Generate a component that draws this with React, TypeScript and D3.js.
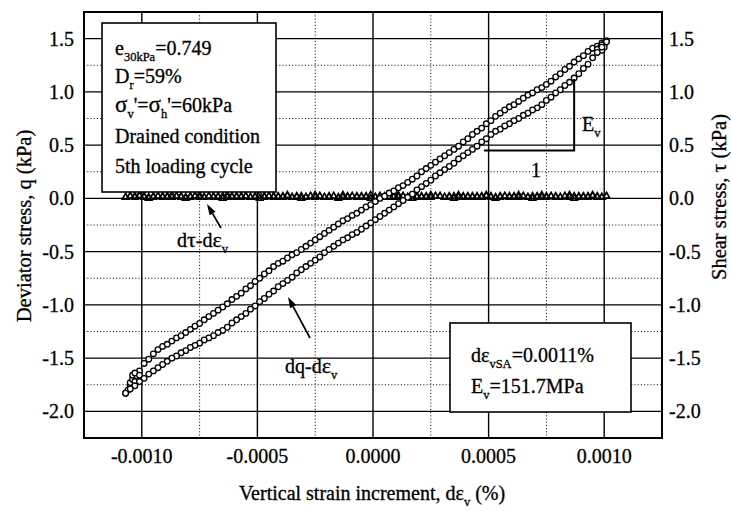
import React from "react";
import * as d3 from "d3";

const WIDTH = 731;
const HEIGHT = 511;

// Axis ticks
const strainMajorTicks = [-0.001, -0.0005, 0, 0.0005, 0.001];
const strainMinorTicks = [-0.00075, -0.00025, 0.00025, 0.00075];
const strainTickLabels = ["-0.0010", "-0.0005", "0.0000", "0.0005", "0.0010"];
const stressMajorTicks = [-2, -1.5, -1, -0.5, 0, 0.5, 1, 1.5];
const stressMinorTicks = [-1.75, -1.25, -0.75, -0.25, 0.25, 0.75, 1.25];
const stressTickLabels = ["-2.0", "-1.5", "-1.0", "-0.5", "0.0", "0.5", "1.0", "1.5"];

// dq-dεv loop, loading branch: [vertical strain increment (%), q (kPa)]
const loadingBranch: [number, number][] = [
  [-0.00107, -1.83], [-0.00105, -1.76], [-0.00103, -1.68], [-0.00101, -1.62], [-0.00099, -1.55],
  [-0.00097, -1.51], [-0.00095, -1.46], [-0.00093, -1.42], [-0.00091, -1.39], [-0.00089, -1.37],
  [-0.00087, -1.34], [-0.00085, -1.31], [-0.00083, -1.29], [-0.00081, -1.26], [-0.00079, -1.23],
  [-0.00077, -1.2], [-0.00075, -1.175], [-0.00073, -1.14], [-0.00071, -1.11], [-0.00069, -1.08],
  [-0.00067, -1.05], [-0.00065, -1.02], [-0.00063, -0.99], [-0.00061, -0.95], [-0.00059, -0.92],
  [-0.00057, -0.89], [-0.00055, -0.85], [-0.00053, -0.82], [-0.00051, -0.78], [-0.00049, -0.75],
  [-0.00047, -0.71], [-0.00045, -0.68], [-0.00043, -0.64], [-0.00041, -0.61], [-0.00039, -0.59],
  [-0.00037, -0.56], [-0.00035, -0.53], [-0.00033, -0.51], [-0.00031, -0.48], [-0.00029, -0.45],
  [-0.00027, -0.42], [-0.00025, -0.39], [-0.00023, -0.36], [-0.00021, -0.33], [-0.00019, -0.3],
  [-0.00017, -0.27], [-0.00015, -0.24], [-0.00013, -0.21], [-0.00011, -0.19], [-0.00009, -0.16],
  [-0.00007, -0.14], [-0.00005, -0.11], [-0.00003, -0.08], [-0.00001, -0.06], [0.00001, -0.03],
  [0.00003, 0.0], [0.00005, 0.02], [0.00007, 0.05], [0.00009, 0.07], [0.00011, 0.1],
  [0.00013, 0.12], [0.00015, 0.15], [0.00017, 0.18], [0.00019, 0.21], [0.00021, 0.25],
  [0.00023, 0.28], [0.00025, 0.31], [0.00027, 0.34], [0.00029, 0.37], [0.00031, 0.4],
  [0.00033, 0.43], [0.00035, 0.46], [0.00037, 0.49], [0.00039, 0.53], [0.00041, 0.56],
  [0.00043, 0.6], [0.00045, 0.63], [0.00047, 0.66], [0.00049, 0.7], [0.00051, 0.73],
  [0.00053, 0.77], [0.00055, 0.8], [0.00057, 0.83], [0.00059, 0.86], [0.00061, 0.88],
  [0.00063, 0.91], [0.00065, 0.94], [0.00067, 0.97], [0.00069, 0.99], [0.00071, 1.02],
  [0.00073, 1.04], [0.00075, 1.07], [0.00077, 1.1], [0.00079, 1.14], [0.00081, 1.17],
  [0.00083, 1.21], [0.00085, 1.24], [0.00087, 1.28], [0.00089, 1.31], [0.00091, 1.34],
  [0.00093, 1.38], [0.00095, 1.41], [0.00097, 1.43], [0.00099, 1.46], [0.00101, 1.48],
];

// dq-dεv loop, unloading branch
const unloadingBranch: [number, number][] = [
  [0.00101, 1.47], [0.00099, 1.42], [0.00097, 1.37], [0.00095, 1.32], [0.00093, 1.26],
  [0.00091, 1.22], [0.00089, 1.17], [0.00087, 1.13], [0.00085, 1.09], [0.00083, 1.06],
  [0.00081, 1.02], [0.00079, 0.99], [0.00077, 0.95], [0.00075, 0.92], [0.00073, 0.88],
  [0.00071, 0.85], [0.00069, 0.83], [0.00067, 0.8], [0.00065, 0.78], [0.00063, 0.75],
  [0.00061, 0.73], [0.00059, 0.7], [0.00057, 0.68], [0.00055, 0.65], [0.00053, 0.63],
  [0.00051, 0.6], [0.00049, 0.56], [0.00047, 0.53], [0.00045, 0.49], [0.00043, 0.46],
  [0.00041, 0.43], [0.00039, 0.4], [0.00037, 0.37], [0.00035, 0.33], [0.00033, 0.3],
  [0.00031, 0.27], [0.00029, 0.24], [0.00027, 0.21], [0.00025, 0.17], [0.00023, 0.14],
  [0.00021, 0.11], [0.00019, 0.08], [0.00017, 0.04], [0.00015, 0.01], [0.00013, -0.02],
  [0.00011, -0.05], [0.00009, -0.08], [0.00007, -0.11], [0.00005, -0.14], [0.00003, -0.17],
  [0.00001, -0.2], [-0.00001, -0.23], [-0.00003, -0.26], [-0.00005, -0.29], [-0.00007, -0.32],
  [-0.00009, -0.34], [-0.00011, -0.37], [-0.00013, -0.39], [-0.00015, -0.42], [-0.00017, -0.45],
  [-0.00019, -0.48], [-0.00021, -0.51], [-0.00023, -0.55], [-0.00025, -0.58], [-0.00027, -0.61],
  [-0.00029, -0.64], [-0.00031, -0.67], [-0.00033, -0.7], [-0.00035, -0.74], [-0.00037, -0.77],
  [-0.00039, -0.8], [-0.00041, -0.83], [-0.00043, -0.87], [-0.00045, -0.9], [-0.00047, -0.94],
  [-0.00049, -0.97], [-0.00051, -1.01], [-0.00053, -1.04], [-0.00055, -1.08], [-0.00057, -1.11],
  [-0.00059, -1.14], [-0.00061, -1.17], [-0.00063, -1.21], [-0.00065, -1.24], [-0.00067, -1.26],
  [-0.00069, -1.29], [-0.00071, -1.31], [-0.00073, -1.33], [-0.00075, -1.36], [-0.00077, -1.38],
  [-0.00079, -1.4], [-0.00081, -1.43], [-0.00083, -1.45], [-0.00085, -1.48], [-0.00087, -1.5],
  [-0.00089, -1.53], [-0.00091, -1.56], [-0.00093, -1.59], [-0.00095, -1.62], [-0.00097, -1.65],
  [-0.00099, -1.69], [-0.00101, -1.72], [-0.00103, -1.76], [-0.00105, -1.79], [-0.00107, -1.83],
];

// Points recorded around the two load reversals
const reversalPoints: [number, number][] = [
  [-0.00106, -1.8], [-0.00105, -1.73], [-0.00104, -1.7], [-0.00103, -1.72], [-0.00104, -1.66],
  [-0.00102, -1.67], [-0.00103, -1.64], [-0.00101, -1.66],
  [0.001, 1.45], [0.00099, 1.44], [0.001, 1.42], [0.00098, 1.41], [0.00097, 1.4], [0.00099, 1.39],
];

// dτ-dεv: shear stress τ (kPa) along the loading and unloading sweeps
const tauLoading = [
  0.01, 0.02, 0.01, 0.02, 0.01, 0.0, 0.01, 0.02, 0.02, 0.01, 0.01, 0.02, 0.01, 0.0, 0.01,
  0.02, 0.01, 0.01, 0.02, 0.02, 0.01, 0.0, 0.01, 0.01, 0.02, 0.01, 0.02, 0.01, 0.01, 0.0,
  0.01, 0.02, 0.02, 0.01, 0.01, 0.02, 0.01, 0.01, 0.0, 0.01, 0.02, 0.01, 0.02, 0.01, 0.01,
  0.02, 0.0, 0.01, 0.01, 0.02, 0.02, 0.01, 0.01, 0.0, 0.01, 0.02, 0.01, 0.02, 0.01, 0.01,
  0.02, 0.01, 0.0, 0.01, 0.02, 0.01, 0.01, 0.02, 0.02, 0.01, 0.01, 0.0, 0.01, 0.02, 0.01,
  0.02, 0.01, 0.01, 0.02, 0.01, 0.0, 0.01, 0.02, 0.02, 0.01, 0.01, 0.02, 0.01, 0.0, 0.01,
  0.01, 0.02, 0.02, 0.01, 0.01, 0.02, 0.01, 0.0, 0.01, 0.02, 0.01, 0.02, 0.01, 0.01, 0.02,
];
const tauUnloading = [
  0.02, 0.01, 0.02, 0.03, 0.02, 0.01, 0.02, 0.02, 0.03, 0.02, 0.01, 0.02, 0.02, 0.01, 0.03,
  0.02, 0.02, 0.01, 0.02, 0.03, 0.02, 0.01, 0.02, 0.02, 0.01, 0.02, 0.03, 0.02, 0.02, 0.01,
  0.02, 0.01, 0.03, 0.02, 0.02, 0.01, 0.02, 0.02, 0.03, 0.02, 0.01, 0.02, 0.02, 0.01, 0.02,
  0.03, 0.02, 0.01, 0.02, 0.02, 0.01, 0.03, 0.02, 0.02, 0.01, 0.02, 0.02, 0.03, 0.01, 0.02,
  0.02, 0.01, 0.02, 0.03, 0.02, 0.01, 0.02, 0.02, 0.01, 0.03, 0.02, 0.02, 0.01, 0.02, 0.02,
  0.03, 0.02, 0.01, 0.02, 0.02, 0.01, 0.02, 0.03, 0.02, 0.02, 0.01, 0.02, 0.01, 0.03, 0.02,
  0.02, 0.01, 0.02, 0.02, 0.03, 0.02, 0.01, 0.02, 0.02, 0.01, 0.02, 0.03, 0.02, 0.02, 0.01,
];

// Slope guide for Ev (strain, q)
const slopeRun: [number, number] = [0.00048, 0.00087];
const slopeRise: [number, number] = [0.45, 1.12];

const FONT = "'Liberation Serif', 'Times New Roman', Times, serif";
const FS = 20;
const SUB = 12.5;

type Seg = { t: string; sub?: boolean; size?: number };

function Rich({ x, y, segs, size = FS, anchor = "start", transform }: {
  x: number; y: number; segs: Seg[]; size?: number; anchor?: string; transform?: string;
}) {
  let level = 0;
  return (
    <text x={x} y={y} fontSize={size} textAnchor={anchor} transform={transform}>
      {segs.map((s, i) => {
        const target = s.sub ? 6 : 0;
        const dy = target - level;
        level = target;
        return (
          <tspan key={i} dy={dy} fontSize={s.sub ? SUB : s.size ?? size}>
            {s.t}
          </tspan>
        );
      })}
    </text>
  );
}

function Arrow({ from, to }: { from: [number, number]; to: [number, number] }) {
  const ang = Math.atan2(to[1] - from[1], to[0] - from[0]);
  const len = 11;
  const half = 3.5;
  const bx = to[0] - len * Math.cos(ang);
  const by = to[1] - len * Math.sin(ang);
  const px = -Math.sin(ang) * half;
  const py = Math.cos(ang) * half;
  return (
    <g>
      <line x1={from[0]} y1={from[1]} x2={bx} y2={by} stroke="#000" strokeWidth={1.7} />
      <path d={`M${to[0]},${to[1]}L${bx + px},${by + py}L${bx - px},${by - py}Z`} fill="#000" />
    </g>
  );
}

export default function App() {
  const x = d3.scaleLinear().domain([-0.00125, 0.00125]).range([84, 662]);
  const y = d3.scaleLinear().domain([-2.25, 1.75]).range([438, 12]);
  const [x0, x1] = x.range();
  const [yb, yt] = y.range();

  const tri = d3.symbol(d3.symbolTriangle, 20)() as string;

  const tauPoints: [number, number][] = [
    ...tauLoading.slice(0, loadingBranch.length).map((t, i) => [loadingBranch[i][0], t] as [number, number]),
    ...tauUnloading.slice(0, unloadingBranch.length).map((t, i) => [unloadingBranch[i][0], t] as [number, number]),
  ];
  const loopPoints = [...loadingBranch, ...reversalPoints, ...unloadingBranch];

  return (
    <svg
      width={WIDTH}
      height={HEIGHT}
      style={{ position: "absolute", left: 0, top: 0, background: "#fff", fontFamily: FONT }}
    >
      <style>{`text { font-family: ${FONT}; fill: #000; stroke: #000; stroke-width: 0.3px; }`}</style>
      <rect width={WIDTH} height={HEIGHT} fill="#fff" />
      {/* minor dotted grid */}
      <g stroke="#222" strokeWidth={1} strokeDasharray="1.2,2">
        {strainMinorTicks.map((v) => (
          <line key={"xm" + v} x1={x(v)} x2={x(v)} y1={yt} y2={yb} />
        ))}
        {stressMinorTicks.map((v) => (
          <line key={"ym" + v} x1={x0} x2={x1} y1={y(v)} y2={y(v)} />
        ))}
      </g>
      {/* major solid grid */}
      <g stroke="#000" strokeWidth={1.4}>
        {strainMajorTicks.map((v) => (
          <line key={"xM" + v} x1={x(v)} x2={x(v)} y1={yt} y2={yb} />
        ))}
        {stressMajorTicks.map((v) => (
          <line key={"yM" + v} x1={x0} x2={x1} y1={y(v)} y2={y(v)} />
        ))}
      </g>
      <rect x={x0} y={yt} width={x1 - x0} height={yb - yt} fill="none" stroke="#000" strokeWidth={2} />

      {/* dτ-dεv triangles */}
      <g fill="none" stroke="#000" strokeWidth={1.4}>
        {tauPoints.map((p, i) => (
          <path key={"t" + i} d={tri} transform={`translate(${x(p[0])},${y(p[1])})`} />
        ))}
      </g>

      {/* dq-dεv loop */}
      <g fill="#fff" stroke="#000" strokeWidth={1.3}>
        {loopPoints.map((p, i) => (
          <circle key={"c" + i} cx={x(p[0])} cy={y(p[1])} r={2.8} />
        ))}
      </g>

      {/* Ev slope guide */}
      <path
        d={`M${x(slopeRun[0])},${y(slopeRise[0])}H${x(slopeRun[1])}V${y(slopeRise[1])}`}
        fill="none"
        stroke="#000"
        strokeWidth={2}
      />
      <Rich x={582} y={131} segs={[{ t: "E" }, { t: "v", sub: true }]} />
      <text x={536} y={177} fontSize={FS} textAnchor="middle">1</text>

      {/* tick labels */}
      <g fontSize={FS}>
        {stressMajorTicks.map((v, i) => (
          <text key={"yl" + v} x={74} y={y(v)} dy="0.35em" textAnchor="end">{stressTickLabels[i]}</text>
        ))}
        {stressMajorTicks.map((v, i) => (
          <text key={"yr" + v} x={669} y={y(v)} dy="0.35em" textAnchor="start">{stressTickLabels[i]}</text>
        ))}
        {strainMajorTicks.map((v, i) => (
          <text key={"xl" + v} x={x(v)} y={463} textAnchor="middle">{strainTickLabels[i]}</text>
        ))}
      </g>

      {/* axis titles */}
      <Rich
        x={372}
        y={500}
        anchor="middle"
        segs={[{ t: "Vertical strain increment, d" }, { t: "ε" }, { t: "v", sub: true }, { t: " (%)" }]}
      />
      <text x={0} y={0} fontSize={20.5} textAnchor="middle" transform="translate(31,226) rotate(-90)">
        Deviator stress, q (kPa)
      </text>
      <text x={0} y={0} fontSize={20.5} textAnchor="middle" transform="translate(726,197) rotate(-90)">
        Shear stress, <tspan fontSize={22}>τ</tspan> (kPa)
      </text>

      {/* test condition box */}
      <rect x={102} y={23} width={174} height={169} fill="#fff" stroke="#000" strokeWidth={1.6} />
      <Rich x={115} y={55} segs={[{ t: "e" }, { t: "30kPa", sub: true }, { t: "=0.749" }]} />
      <Rich x={115} y={83} segs={[{ t: "D" }, { t: "r", sub: true }, { t: "=59%" }]} />
      <Rich
        x={115}
        y={112}
        segs={[
          { t: "σ", size: 23 },
          { t: "v", sub: true },
          { t: "'=" },
          { t: "σ", size: 23 },
          { t: "h", sub: true },
          { t: "'=60kPa" },
        ]}
      />
      <text x={115} y={143} fontSize={FS}>Drained condition</text>
      <text x={115} y={173} fontSize={FS}>5th loading cycle</text>

      {/* result box */}
      <rect x={450} y={323} width={181} height={89} fill="#fff" stroke="#000" strokeWidth={1.6} />
      <Rich x={471} y={362} segs={[{ t: "dε" }, { t: "vSA", sub: true }, { t: "=0.0011%" }]} />
      <Rich x={471} y={393} segs={[{ t: "E" }, { t: "v", sub: true }, { t: "=151.7MPa" }]} />

      {/* series labels */}
      <Rich x={285} y={373} segs={[{ t: "dq-d" }, { t: "ε", size: 22 }, { t: "v", sub: true }]} />
      <Arrow from={[310, 338]} to={[288, 297]} />
      <Rich x={177} y={247} segs={[{ t: "d" }, { t: "τ", size: 22 }, { t: "-d" }, { t: "ε", size: 22 }, { t: "v", sub: true }]} />
      <Arrow from={[221, 228]} to={[207, 204]} />
    </svg>
  );
}
